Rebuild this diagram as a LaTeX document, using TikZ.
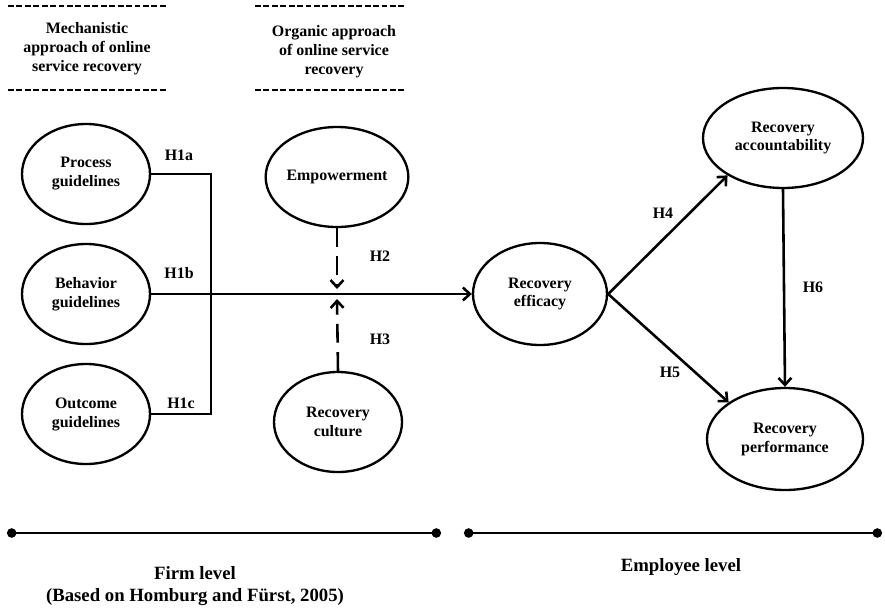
\documentclass[tikz,border=0pt]{standalone}
\usepackage{fontspec}
\setmainfont{Liberation Serif}
\usetikzlibrary{arrows.meta,shapes.geometric}

\tikzset{
  construct/.style={ellipse,draw,line width=2pt,align=center,inner sep=0pt,
    font=\fontsize{13.6}{16.2}\selectfont\bfseries},
  hyp/.style={font=\fontsize{13.6}{16.2}\selectfont\bfseries},
  path/.style={line width=2.2pt},
  arr/.style={path,-{Straight Barb[length=6pt,width=11pt,line width=2.2pt]}},
  modline/.style={arr,dash pattern=on 16pt off 8pt},
  rule/.style={line width=2pt,dash pattern=on 5pt off 2.2pt},
  level/.style={line width=2.4pt,{Circle[length=8pt]}-{Circle[length=8pt]}},
  heading/.style={align=center,font=\fontsize{13.6}{16.2}\selectfont\bfseries},
  levelname/.style={align=center,font=\fontsize{16}{18.7}\selectfont\bfseries}
}

\begin{document}
\begin{tikzpicture}[x=0.03cm,y=-0.03cm]
    \useasboundingbox (0,0) rectangle (885,610);

    % headings
    \draw[rule] (8,6) -- (168,6);
    \node[heading] (mech) at (87,49) {Mechanistic\\approach of online\\service recovery};
    \draw[rule] (8,90) -- (168,90);
    \draw[rule] (255,6) -- (405,6);
    \node[heading] (org) at (334,52) {Organic approach\\of online service\\recovery};
    \draw[rule] (255,90) -- (405,90);

    % constructs
    \node[construct,minimum width=3.84cm,minimum height=3cm] (proc) at (86,174) {Process\\guidelines};
    \node[construct,minimum width=3.84cm,minimum height=3cm] (beh) at (86,294) {Behavior\\guidelines};
    \node[construct,minimum width=3.84cm,minimum height=3cm] (out) at (86,414) {Outcome\\guidelines};
    \node[construct,minimum width=3.84cm,minimum height=3cm] (emp) at (337,177) {Empowerment};
    \node[construct,minimum width=3.84cm,minimum height=3cm] (cul) at (338,422) {Recovery\\culture};
    \node[construct,minimum width=4.02cm,minimum height=3.06cm] (eff) at (540,294) {Recovery\\efficacy};
    \node[construct,minimum width=4.8cm,minimum height=3cm] (acc) at (783,138) {Recovery\\accountability};
    \node[construct,minimum width=4.68cm,minimum height=3.06cm] (perf) at (785,439) {Recovery\\performance};

    \coordinate (brk) at (211,294);
    \coordinate (modtop) at (337,289);
    \coordinate (modbot) at (337,299);

    % paths
    \draw[path] (proc.east) -| (brk) |- (out.east);
    \draw[arr] (beh.east) -- (eff.west);
    \draw[modline] (emp.south) -- (modtop);
    \draw[modline] (cul.north) -- (modbot);
    \draw[arr] (eff.east) -- (acc.214);
    \draw[arr] (eff.east) -- (perf.147);
    \draw[arr] (acc.south) -- (perf.north);

    \node[hyp] (h1a) at (179,155) {H1a};
    \node[hyp] (h1b) at (179,273) {H1b};
    \node[hyp] (h1c) at (181,403) {H1c};
    \node[hyp] (h2) at (380,256) {H2};
    \node[hyp] (h3) at (380,339) {H3};
    \node[hyp] (h4) at (663,213) {H4};
    \node[hyp] (h5) at (670,372) {H5};
    \node[hyp] (h6) at (813,287) {H6};

    % levels
    \coordinate (f1) at (7,533);
    \coordinate (f2) at (441,533);
    \coordinate (e1) at (464,533);
    \coordinate (e2) at (882,533);
    \draw[level] (f1) -- (f2);
    \draw[level] (e1) -- (e2);
    \node[levelname] (firm) at (195,586) {Firm level\\(Based on Homburg and Fürst, 2005)};
    \node[levelname] (empl) at (681,567) {Employee level};
\end{tikzpicture}
\end{document}
